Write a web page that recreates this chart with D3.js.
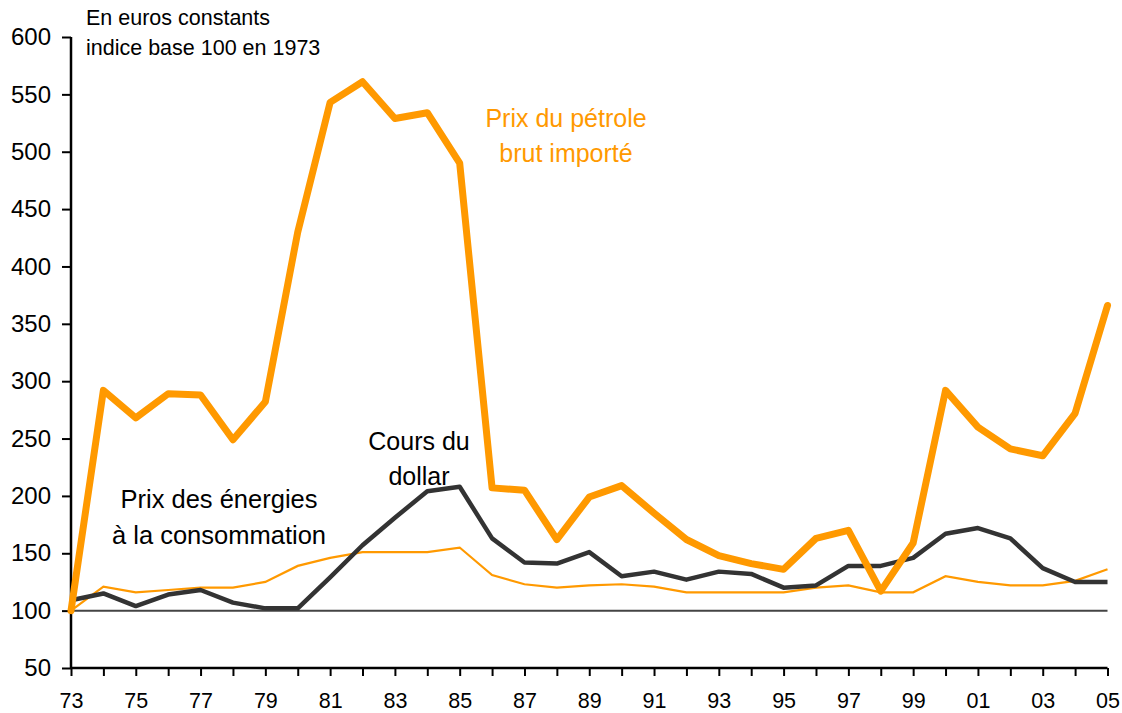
<!DOCTYPE html>
<html>
<head>
<meta charset="utf-8">
<script src="https://cdn.jsdelivr.net/npm/d3@7"></script>
<style>
  body { margin: 0; background: #fff; }
  svg { display: block; font-family: "Liberation Sans", Arial, sans-serif; }
</style>
</head>
<body>
<svg id="chart" width="1122" height="713"></svg>
<script>
// Years 1973 -> 2005
const years = d3.range(1973, 2006);

// Prix du petrole brut importe (thick orange)
const oilPrice = [100, 292, 268, 289, 288, 249, 282, 430, 543, 561, 529, 534, 490,
  207, 205, 162, 199, 209, 185, 162, 148, 141, 136, 163, 170, 117, 159,
  292, 260, 241, 235, 272, 366];

// Cours du dollar (dark)
const dollar = [109, 115, 104, 114, 118, 107, 102, 102, 129, 157, 181, 204, 208,
  163, 142, 141, 151, 130, 134, 127, 134, 132, 120, 122, 139, 139, 146,
  167, 172, 163, 137, 125, 125];

// Prix des energies a la consommation (thin orange)
const energy = [100, 121, 116, 118, 120, 120, 125, 139, 146, 151, 151, 151, 155,
  131, 123, 120, 122, 123, 121, 116, 116, 116, 116, 120, 122, 116, 116,
  130, 125, 122, 122, 126, 136];

const yTicks = [50, 100, 150, 200, 250, 300, 350, 400, 450, 500, 550, 600];

const svg = d3.select("#chart");
const plotLeft = 71, plotRight = 1107.5, plotTop = 37, plotBottom = 668;

const x = d3.scaleLinear().domain([1973, 2005]).range([plotLeft, plotRight]);
const y = d3.scaleLinear().domain([50, 600]).range([plotBottom, plotTop]);

const ORANGE = "#FF9900";
const DARK = "#333333";

// y axis
const yAxis = d3.axisLeft(y).tickValues(yTicks).tickSize(9).tickPadding(11);
const gy = svg.append("g")
  .attr("transform", "translate(" + plotLeft + ",0)")
  .call(yAxis);
gy.selectAll("text").attr("font-size", 24).attr("fill", "#000");

// x axis
const xAxis = d3.axisBottom(x).tickValues(years).tickSize(8).tickPadding(17)
  .tickFormat(d => (d % 2 === 1 ? String(d % 100).padStart(2, "0") : ""));
const gx = svg.append("g")
  .attr("transform", "translate(0," + plotBottom + ")")
  .call(xAxis);
gx.selectAll("text").attr("font-size", 21.5).attr("fill", "#000");

svg.selectAll(".domain").attr("stroke", "#000").attr("stroke-width", 2.5);
svg.selectAll(".tick line").attr("stroke", "#000").attr("stroke-width", 2);
// keep only the axis line, no outer ticks
gy.select(".domain").attr("d", "M0," + plotTop + "V" + plotBottom);
gx.select(".domain").attr("d", "M" + plotLeft + ",0H" + plotRight);

// base 100 line
svg.append("line")
  .attr("x1", x(1973)).attr("x2", x(2005))
  .attr("y1", y(100)).attr("y2", y(100))
  .attr("stroke", "#444").attr("stroke-width", 2);

const line = d3.line()
  .x((d, i) => x(years[i]))
  .y(d => y(d));

svg.append("path")
  .attr("d", line(energy))
  .attr("fill", "none")
  .attr("stroke", ORANGE)
  .attr("stroke-width", 2.2);

svg.append("path")
  .attr("d", line(dollar))
  .attr("fill", "none")
  .attr("stroke", DARK)
  .attr("stroke-width", 4.5)
  .attr("stroke-linejoin", "round");

svg.append("path")
  .attr("d", line(oilPrice))
  .attr("fill", "none")
  .attr("stroke", ORANGE)
  .attr("stroke-width", 7)
  .attr("stroke-linejoin", "round")
  .attr("stroke-linecap", "round");

// labels
function label(lines, cx, y0, color, size, anchor) {
  const t = svg.append("text")
    .attr("font-size", size)
    .attr("fill", color)
    .attr("text-anchor", anchor || "middle");
  lines.forEach((s, i) => {
    t.append("tspan").attr("x", cx).attr("y", y0 + i * (size * 1.4)).text(s);
  });
}

label(["En euros constants", "indice base 100 en 1973"], 86, 25, "#000", 21.5, "start");
label(["Prix du pétrole", "brut importé"], 566, 127, ORANGE, 25);
label(["Prix des énergies", "à la consommation"], 219, 508, "#000", 25.5);
label(["Cours du", "dollar"], 419, 450, "#000", 25);
</script>
</body>
</html>
